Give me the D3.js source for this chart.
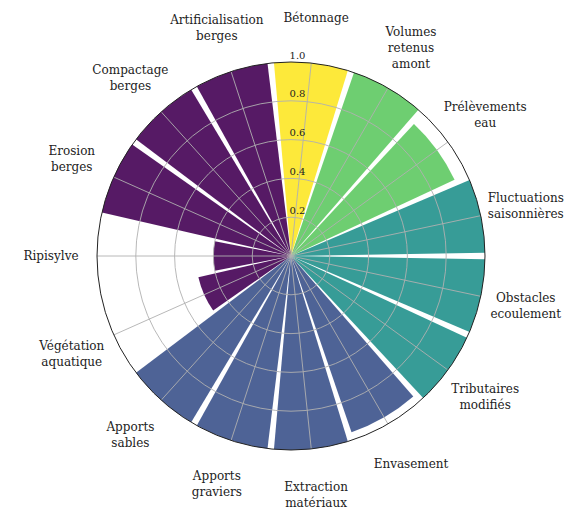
<!DOCTYPE html>
<html>
<head>
	<meta charset="utf-8">
	<script src="https://cdn.jsdelivr.net/npm/d3@7"></script>
	<style>
		body { margin: 0; background: #fff; }
	</style>
</head>
<body>
	<script>
		// categories, counterclockwise from east (matplotlib order)
		var categories = [
			"Fluctuations\nsaisonnières", "Prélèvements\neau", "Volumes\nretenus\namont", "Bétonnage",
			"Artificialisation\nberges", "Compactage\nberges", "Erosion\nberges", "Ripisylve",
			"Végétation\naquatique", "Apports\nsables", "Apports\ngraviers", "Extraction\nmatériaux",
			"Envasement", "Tributaires\nmodifiés", "Obstacles\necoulement"
		];
		// score of each category
		var values = [1.0, 0.93, 1.0, 1.0, 1.0, 1.0, 1.0, 0.40, 0.49, 1.0, 1.0, 1.0, 0.96, 1.0, 1.0];
		// colour group of each category
		var groups = [2, 3, 3, 4, 0, 0, 0, 0, 0, 1, 1, 1, 1, 2, 2];
		// radial ticks
		var r_ticks = [0.2, 0.4, 0.6, 0.8, 1.0];

		var width = 580, height = 511;
		var cx = 291, cy = 256, radius = 194;
		var serif = "DejaVu Serif";

		var svg = d3.select('body').append('svg')
			.attr('width', width)
			.attr('height', height)
			.style('font-family', serif);

		var g = svg.append('g').attr('transform', `translate(${cx},${cy})`);

		// r scale
		var r_scale = d3.scaleLinear().domain([0, 1]).range([0, radius]);
		// angle scale (d3 angles: clockwise from north); reversed range = counterclockwise
		var a_scale = d3.scaleBand()
			.domain(d3.range(categories.length))
			.range([Math.PI / 2, Math.PI / 2 - 2 * Math.PI])
			.paddingInner(0.08)
			.paddingOuter(0.04);
		var center_angle = i => a_scale(i) + a_scale.bandwidth() / 2;

		var color = d3.scaleOrdinal()
			.domain([0, 1, 2, 3, 4])
			.range([0, 0.25, 0.5, 0.75, 1].map(t => d3.interpolateViridis(t)));

		var arc = d3.arc()
			.innerRadius(0)
			.outerRadius(d => r_scale(d.value))
			.startAngle(d => a_scale(d.i))
			.endAngle(d => a_scale(d.i) + a_scale.bandwidth());

		var data = values.map((v, i) => ({ i: i, value: v, group: groups[i] }));

		// bars
		g.selectAll('path.bar')
			.data(data)
			.enter()
			.append('path')
			.attr('class', 'bar')
			.attr('d', arc)
			.attr('fill', d => color(d.group))
			.attr('fill-opacity', 0.9);

		// circular grid
		g.selectAll('circle.grid')
			.data(r_ticks.filter(d => d < 1))
			.enter()
			.append('circle')
			.attr('r', d => r_scale(d))
			.attr('fill', 'none')
			.attr('stroke', '#b0b0b0')
			.attr('stroke-width', 0.9);

		// radial grid
		g.selectAll('line.grid')
			.data(d3.range(categories.length))
			.enter()
			.append('line')
			.attr('x1', 0).attr('y1', 0)
			.attr('x2', i => r_scale(1) * Math.sin(center_angle(i)))
			.attr('y2', i => -r_scale(1) * Math.cos(center_angle(i)))
			.attr('stroke', '#b0b0b0')
			.attr('stroke-width', 0.9);

		// outer spine
		g.append('circle')
			.attr('r', r_scale(1))
			.attr('fill', 'none')
			.attr('stroke', '#222')
			.attr('stroke-width', 1);

		// radial tick labels
		g.selectAll('text.rtick')
			.data(r_ticks)
			.enter()
			.append('text')
			.attr('x', 6.5)
			.attr('y', d => -r_scale(d) - 6)
			.attr('text-anchor', 'middle')
			.attr('dominant-baseline', 'middle')
			.attr('fill', '#222')
			.style('font-size', '10px')
			.text(d => d.toFixed(1));

		// category labels
		var label_r = 240;
		var labels = g.selectAll('text.cat')
			.data(categories)
			.enter()
			.append('text')
			.attr('text-anchor', 'middle')
			.attr('fill', '#222')
			.style('font-size', '12px')
			.attr('transform', (d, i) => {
				var a = center_angle(i);
				return `translate(${label_r * Math.sin(a)},${-label_r * Math.cos(a)})`;
			});
		labels.each(function (d) {
			var lines = d.split('\n');
			var lh = 16;
			var t = d3.select(this);
			lines.forEach((l, j) => {
				t.append('tspan')
					.attr('x', 0)
					.attr('y', (j - (lines.length - 1) / 2) * lh)
					.attr('dy', '0.35em')
					.text(l);
			});
		});
	</script>
</body>
</html>
